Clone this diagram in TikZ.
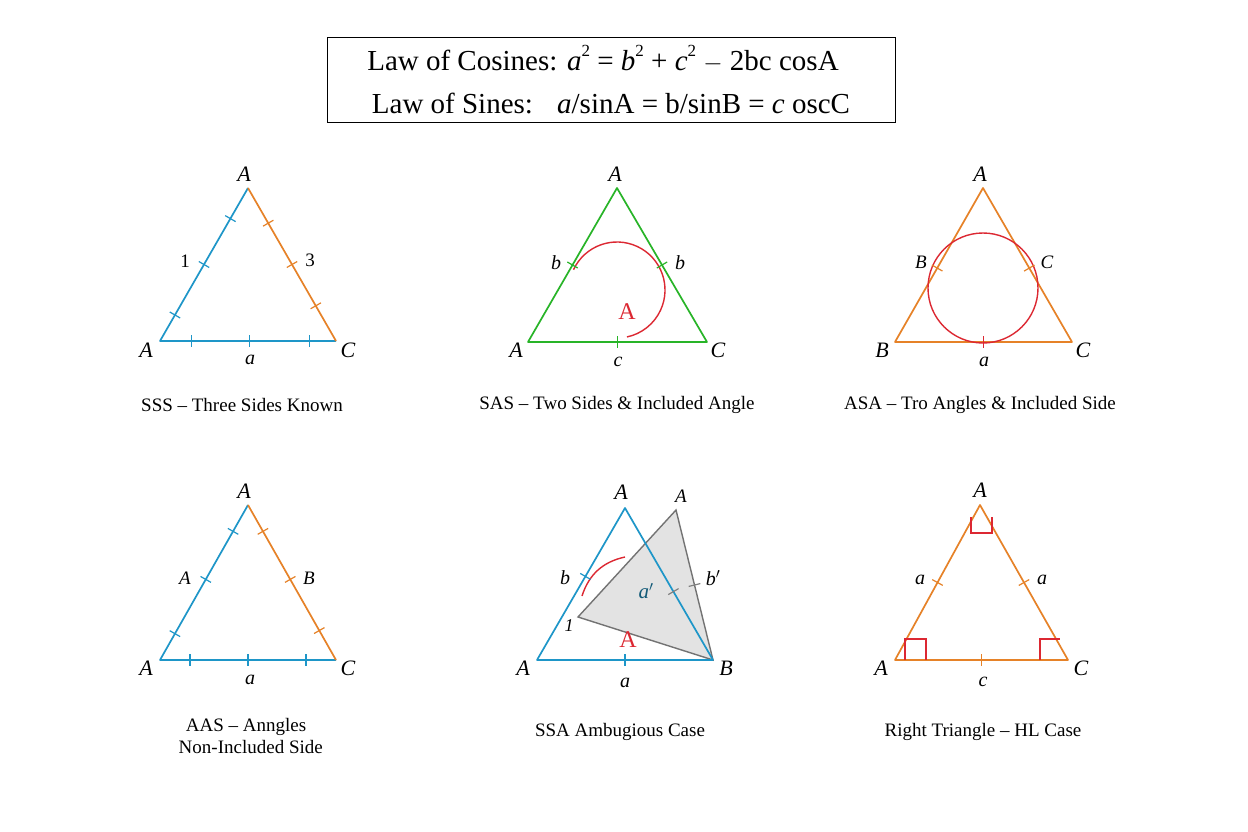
\documentclass[tikz,border=0pt]{standalone}
\usepackage{fontspec}
\setmainfont{Liberation Serif}
\usetikzlibrary{calc}
\newcommand{\tickmk}[4]{\path ($(#1)!#3!(#2)$) coordinate (tm);
  \draw[line width=1.2pt,#4] ($(tm)!6pt!90:(#2)$) -- ($(tm)!6pt!-90:(#2)$);}
\newcommand{\sq}{\raisebox{0.5em}{\fontsize{17}{18}\selectfont 2}}
\begin{document}
\begin{tikzpicture}[x=1pt,y=-1pt,
  lab/.style={font=\fontsize{22}{24}\selectfont\itshape},
  captn/.style={font=\fontsize{19}{22}\selectfont},
  tri/.style={line width=1.7pt,line join=round}]
\definecolor{cb}{RGB}{30,150,200}\definecolor{co}{RGB}{230,130,40}
\definecolor{cg}{RGB}{40,180,40}\definecolor{cr}{RGB}{220,40,50}
\useasboundingbox (0,0) rectangle (1248,832);
\fill[white] (0,0) rectangle (1248,832);
% header
\node[draw,line width=1pt,minimum width=568pt,minimum height=85pt] (hdr) at (611,80.5) {};
\node[font=\fontsize{29}{32}\selectfont] (l1) at (603,59) {Law of Cosines: \textit{a}\sq{} = \textit{b}\sq{} + \textit{c}\sq{} $-$ 2bc cosA};
\node[font=\fontsize{29}{32}\selectfont] (l2) at (611,103) {Law of Sines: \ \ \textit{a}/sinA = b/sinB = \textit{c} oscC};
% panel 1
\coordinate (p1a) at (248,188); \coordinate (p1b) at (160,341); \coordinate (p1c) at (336,341);
\draw[tri,cb] (p1a)--(p1b)--(p1c); \draw[tri,co] (p1a)--(p1c);
\tickmk{p1a}{p1b}{.2}{cb}\tickmk{p1a}{p1b}{.5}{cb}\tickmk{p1a}{p1b}{.83}{cb}
\tickmk{p1a}{p1c}{.23}{co}\tickmk{p1a}{p1c}{.5}{co}\tickmk{p1a}{p1c}{.77}{co}
\tickmk{p1b}{p1c}{.18}{cb}\tickmk{p1b}{p1c}{.51}{cb}\tickmk{p1b}{p1c}{.85}{cb}
\node[lab] (t1) at (244,174) {A}; \node[lab] (t2) at (146,350) {A}; \node[lab] (t3) at (348,350) {C};
\node[lab,font=\fontsize{19}{22}\selectfont\upshape] (t4) at (185,261) {1};
\node[lab,font=\fontsize{19}{22}\selectfont\upshape] (t5) at (310,260) {3};
\node[lab,font=\fontsize{20}{22}\selectfont\itshape] (t6) at (250,360) {a};
\node[captn] (c1) at (242,405) {SSS -- Three Sides Known};
% panel 2
\coordinate (p2a) at (617,188); \coordinate (p2b) at (528,342); \coordinate (p2c) at (707,342);
\draw[tri,cg] (p2a)--(p2b)--(p2c)--cycle;
\draw[line width=1.4pt,cr] (617,290) ++(-155:48) arc[start angle=-155,end angle=78,radius=48];
\tickmk{p2a}{p2b}{.5}{cg}\tickmk{p2a}{p2c}{.5}{cg}\tickmk{p2b}{p2c}{.5}{cg}
\node[lab] (u1) at (615,174) {A}; \node[lab] (u2) at (516,350) {A}; \node[lab] (u3) at (718,350) {C};
\node[lab,font=\fontsize{20}{22}\selectfont\itshape] (u4) at (556,263) {b};
\node[lab,font=\fontsize{20}{22}\selectfont\itshape] (u5) at (680,263) {b};
\node[lab,font=\fontsize{20}{22}\selectfont\itshape] (u6) at (618,362) {c};
\node[font=\fontsize{24}{26}\selectfont,cr] (u7) at (627,312) {A};
\node[captn] (c2) at (617,405) {SAS -- Two Sides \& Included Angle};
% panel 3
\coordinate (p3a) at (983,188); \coordinate (p3b) at (895,342); \coordinate (p3c) at (1072,342);
\draw[tri,co] (p3a)--(p3b)--(p3c)--cycle;
\draw[line width=1.4pt,cr] (983,288) circle[radius=55];
\tickmk{p3a}{p3b}{.52}{co}\tickmk{p3a}{p3c}{.52}{co}\tickmk{p3b}{p3c}{.5}{cr}
\node[lab] (v1) at (980,174) {A}; \node[lab] (v2) at (882,350) {B}; \node[lab] (v3) at (1083,350) {C};
\node[lab,font=\fontsize{19}{22}\selectfont\itshape] (v4) at (921,262) {B};
\node[lab,font=\fontsize{19}{22}\selectfont\itshape] (v5) at (1047,262) {C};
\node[lab,font=\fontsize{20}{22}\selectfont\itshape] (v6) at (984,362) {a};
\node[captn] (c3) at (980,405) {ASA -- Tro Angles \& Included Side};
% panel 4
\coordinate (p4a) at (248,505); \coordinate (p4b) at (160,660); \coordinate (p4c) at (336,660);
\draw[tri,cb] (p4a)--(p4b)--(p4c); \draw[tri,co] (p4a)--(p4c);
\tickmk{p4a}{p4b}{.17}{cb}\tickmk{p4a}{p4b}{.48}{cb}\tickmk{p4a}{p4b}{.83}{cb}
\tickmk{p4a}{p4c}{.17}{co}\tickmk{p4a}{p4c}{.48}{co}\tickmk{p4a}{p4c}{.81}{co}
\tickmk{p4b}{p4c}{.17}{cb}\tickmk{p4b}{p4c}{.5}{cb}\tickmk{p4b}{p4c}{.83}{cb}
\node[lab] (w1) at (244,491) {A}; \node[lab] (w2) at (146,668) {A}; \node[lab] (w3) at (348,668) {C};
\node[lab,font=\fontsize{19}{22}\selectfont\itshape] (w4) at (185,578) {A};
\node[lab,font=\fontsize{19}{22}\selectfont\itshape] (w5) at (309,578) {B};
\node[lab,font=\fontsize{20}{22}\selectfont\itshape] (w6) at (250,680) {a};
\node[captn,align=center] (c4) at (246,736) {AAS -- Anngles\\\ \ Non-Included Side};
% panel 5
\coordinate (p5a) at (625,508); \coordinate (p5b) at (537,660); \coordinate (p5c) at (713,660);
\coordinate (g1) at (676,510); \coordinate (g2) at (578,617);
\fill[gray!22] (g1)--(g2)--(p5c)--cycle;
\draw[line width=1.4pt,gray!90!black] (g1)--(g2)--(p5c)--cycle;
\draw[tri,cb] (p5a)--(p5b)--(p5c)--cycle;
\draw[line width=1.4pt,cr] (582,596) to[bend left=30] (625,557);
\tickmk{p5a}{p5b}{.45}{cb}\tickmk{p5a}{p5c}{.55}{gray}\tickmk{g1}{p5c}{.5}{gray}\tickmk{p5b}{p5c}{.5}{cb}
\node[lab] (x1) at (621,492) {A}; \node[lab,font=\fontsize{19}{22}\selectfont\itshape] (x2) at (681,496) {A};
\node[lab] (x3) at (523,668) {A}; \node[lab] (x4) at (726,668) {B};
\node[lab,font=\fontsize{20}{22}\selectfont\itshape] (x5) at (625,683) {a};
\node[lab,font=\fontsize{20}{22}\selectfont\itshape] (x6) at (565,578) {b};
\node[lab,font=\fontsize{20}{22}\selectfont\itshape] (x7) at (713,578) {b$'$};
\node[lab,font=\fontsize{21}{22}\selectfont\itshape,cb!60!black] (x8) at (646,591) {a$'$};
\node[lab,font=\fontsize{18}{22}\selectfont\itshape] (x9) at (569,626) {1};
\node[font=\fontsize{24}{26}\selectfont,cr] (x10) at (628,640) {A};
\node[captn] (c5) at (620,732) {SSA Ambugious Case};
% panel 6
\coordinate (p6a) at (980,505); \coordinate (p6b) at (895,660); \coordinate (p6c) at (1068,660);
\draw[tri,co] (p6a)--(p6b)--(p6c)--cycle;
\draw[line width=1.4pt,cr] (971,517) |- (992,533) -- (992,517);
\draw[line width=1.4pt,cr] (905,660) |- (926,639) -- (926,660);
\draw[line width=1.4pt,cr] (1040,660) |- (1060,639);
\tickmk{p6a}{p6b}{.5}{co}\tickmk{p6a}{p6c}{.5}{co}\tickmk{p6b}{p6c}{.5}{co}
\node[lab] (y1) at (980,490) {A}; \node[lab] (y2) at (881,668) {A}; \node[lab] (y3) at (1081,668) {C};
\node[lab,font=\fontsize{20}{22}\selectfont\itshape] (y4) at (920,580) {a};
\node[lab,font=\fontsize{20}{22}\selectfont\itshape] (y5) at (1042,580) {a};
\node[lab,font=\fontsize{20}{22}\selectfont\itshape] (y6) at (983,682) {c};
\node[captn] (c6) at (983,732) {Right Triangle -- HL Case};
\end{tikzpicture}
\end{document}
